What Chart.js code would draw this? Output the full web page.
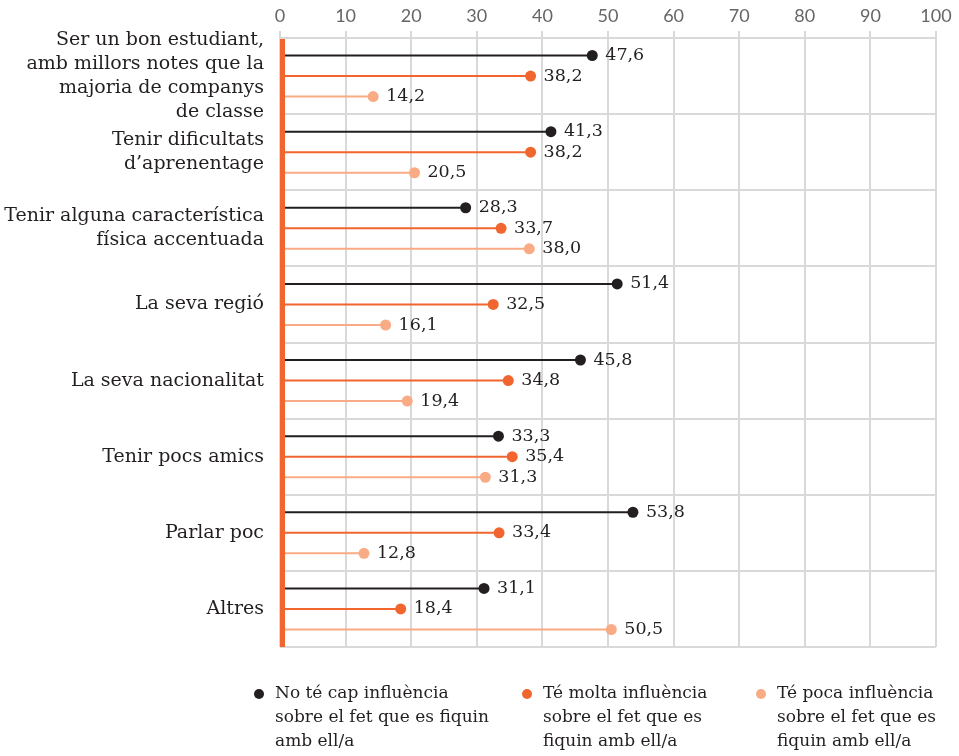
<!DOCTYPE html>
<html>
<head>
<meta charset="utf-8">
<script src="https://cdn.jsdelivr.net/npm/chart.js@4"></script>
<style>
  html, body { margin: 0; padding: 0; background: #fff; }
  #wrap { width: 959px; height: 756px; }
</style>
</head>
<body>
<div id="wrap"><canvas id="chart"></canvas></div>
<script>
var categories = [
  ["Ser un bon estudiant,", "amb millors notes que la", "majoria de companys", "de classe"],
  ["Tenir dificultats", "d\u2019aprenentage"],
  ["Tenir alguna caracter\u00edstica", "f\u00edsica accentuada"],
  "La seva regi\u00f3",
  "La seva nacionalitat",
  "Tenir pocs amics",
  "Parlar poc",
  "Altres"
];
var noInfluencia    = [47.6, 41.3, 28.3, 51.4, 45.8, 33.3, 53.8, 31.1];
var moltaInfluencia = [38.2, 38.2, 33.7, 32.5, 34.8, 35.4, 33.4, 18.4];
var pocaInfluencia  = [14.2, 20.5, 38.0, 16.1, 19.4, 31.3, 12.8, 50.5];
var legendLabels = [
  ["No t\u00e9 cap influ\u00e8ncia", "sobre el fet que es fiquin", "amb ell/a"],
  ["T\u00e9 molta influ\u00e8ncia", "sobre el fet que es", "fiquin amb ell/a"],
  ["T\u00e9 poca influ\u00e8ncia", "sobre el fet que es", "fiquin amb ell/a"]
];

var colors = ["#231f20", "#f1652f", "#f9ab85"];
var serif = "'DejaVu Serif', serif";

// dots at the end of every line + value labels
var lollipop = {
  id: "lollipop",
  afterDatasetsDraw: function (chart) {
    var ctx = chart.ctx;
    var area = chart.chartArea;
    // orange axis line over the start of the bars
    ctx.save();
    ctx.fillStyle = "#f1652f";
    ctx.fillRect(area.left, area.top + 1, 5, area.bottom - area.top - 1);
    chart.data.datasets.forEach(function (ds, di) {
      var meta = chart.getDatasetMeta(di);
      meta.data.forEach(function (bar, i) {
        ctx.beginPath();
        ctx.arc(bar.x, bar.y, 5.5, 0, Math.PI * 2);
        ctx.fillStyle = colors[di];
        ctx.fill();
        ctx.fillStyle = "#231f20";
        ctx.font = "17.5px " + serif;
        ctx.textAlign = "left";
        ctx.textBaseline = "middle";
        ctx.fillText(ds.data[i].toFixed(1).replace(".", ","), bar.x + 13, bar.y);
      });
    });
    ctx.restore();
  },
  afterDraw: function (chart) {
    var ctx = chart.ctx;
    var xs = [259, 527, 761];
    ctx.save();
    ctx.font = "17px " + serif;
    ctx.textAlign = "left";
    ctx.textBaseline = "middle";
    legendLabels.forEach(function (lines, k) {
      ctx.beginPath();
      ctx.arc(xs[k], 694, 5, 0, Math.PI * 2);
      ctx.fillStyle = colors[k];
      ctx.fill();
      ctx.fillStyle = "#231f20";
      lines.forEach(function (t, j) {
        ctx.fillText(t, xs[k] + 16, 694 + j * 24);
      });
    });
    ctx.restore();
  }
};

new Chart(document.getElementById("chart"), {
  type: "bar",
  data: {
    labels: categories,
    datasets: [
      { label: "No t\u00e9 cap influ\u00e8ncia", data: noInfluencia, backgroundColor: colors[0] },
      { label: "T\u00e9 molta influ\u00e8ncia", data: moltaInfluencia, backgroundColor: colors[1] },
      { label: "T\u00e9 poca influ\u00e8ncia", data: pocaInfluencia, backgroundColor: colors[2] }
    ]
  },
  options: {
    indexAxis: "y",
    responsive: true,
    maintainAspectRatio: false,
    animation: false,
    categoryPercentage: 0.81,
    barPercentage: 1,
    maxBarThickness: 2,
    layout: { padding: { left: 0, right: 23, top: 0, bottom: 109 } },
    plugins: { legend: { display: false }, tooltip: { enabled: false } },
    scales: {
      x: {
        position: "top",
        min: 0,
        max: 100,
        afterFit: function (s) { s.height = 38; },
        ticks: {
          stepSize: 10,
          padding: 4,
          color: "#666",
          font: { family: "Lato", size: 18 }
        },
        grid: { color: "#d9d9d9", lineWidth: 2, tickLength: 7 },
        border: { display: false }
      },
      y: {
        afterFit: function (s) { s.width = 280; },
        ticks: {
          autoSkip: false,
          padding: 16,
          color: "#231f20",
          font: { family: "DejaVu Serif", size: 19, lineHeight: 1.26 }
        },
        grid: { color: "#d9d9d9", lineWidth: 2, drawTicks: false },
        border: { display: false }
      }
    }
  },
  plugins: [lollipop]
});
</script>
</body>
</html>
